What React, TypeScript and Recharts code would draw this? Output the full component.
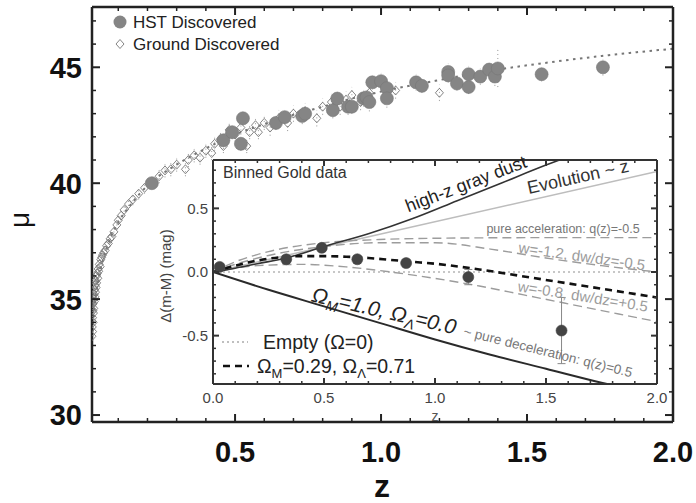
import React from "react";
import {
  ComposedChart,
  Scatter,
  Line,
  XAxis,
  YAxis,
  ErrorBar,
  CartesianGrid,
} from "recharts";

const FONT = '"Liberation Sans", Arial, Helvetica, sans-serif';

// ---- main Hubble diagram: [z, mu, error] ----
const hstDiscovered: [number, number, number][] = [
  [0.215, 40.0, 0.25], [0.46, 41.85, 0.3], [0.49, 42.2, 0.3], [0.52, 41.7, 0.3],
  [0.527, 42.8, 0.3], [0.64, 42.6, 0.3], [0.67, 42.85, 0.3], [0.73, 42.9, 0.35],
  [0.74, 43.0, 0.3], [0.835, 43.15, 0.35], [0.85, 43.65, 0.3], [0.887, 43.3, 0.35],
  [0.9, 43.3, 0.3], [0.94, 43.66, 0.35], [0.95, 43.7, 0.3], [0.96, 43.5, 0.4],
  [0.97, 44.35, 0.3], [1.0, 44.4, 0.35], [1.02, 44.1, 0.3], [1.02, 43.66, 0.4],
  [1.12, 44.35, 0.35], [1.14, 44.2, 0.3], [1.23, 44.8, 0.35], [1.23, 44.65, 0.3],
  [1.26, 44.3, 0.3], [1.3, 44.7, 0.35], [1.3, 44.15, 0.3], [1.34, 44.6, 0.35],
  [1.37, 44.9, 0.3], [1.39, 44.6, 0.4], [1.4, 44.95, 0.8], [1.55, 44.7, 0.3],
  [1.76, 45.0, 0.35],
];

const groundDiscovered: [number, number, number][] = [
  [0.01, 33.4, 0.3], [0.011, 33.8, 0.3], [0.012, 34.2, 0.3], [0.012, 33.6, 0.3],
  [0.013, 34.5, 0.3], [0.014, 34.0, 0.3], [0.014, 34.8, 0.3], [0.015, 34.4, 0.3],
  [0.016, 35.0, 0.3], [0.016, 34.6, 0.3], [0.017, 35.2, 0.25], [0.018, 34.9, 0.25],
  [0.019, 35.4, 0.25], [0.02, 35.1, 0.25], [0.021, 35.6, 0.25], [0.022, 35.3, 0.25],
  [0.023, 35.8, 0.25], [0.024, 35.5, 0.25], [0.025, 36.0, 0.2], [0.026, 35.7, 0.2],
  [0.028, 36.1, 0.2], [0.03, 35.9, 0.2], [0.031, 36.3, 0.2], [0.033, 36.2, 0.2],
  [0.035, 36.5, 0.2], [0.038, 36.4, 0.2], [0.04, 36.7, 0.2], [0.043, 36.8, 0.2],
  [0.046, 36.9, 0.2], [0.05, 37.0, 0.2], [0.055, 37.1, 0.2], [0.06, 37.3, 0.2],
  [0.066, 37.4, 0.2], [0.072, 37.6, 0.2], [0.078, 37.7, 0.2], [0.085, 37.9, 0.2],
  [0.095, 38.2, 0.2], [0.1, 38.4, 0.2], [0.11, 38.6, 0.2], [0.12, 38.85, 0.25],
  [0.135, 39.1, 0.25], [0.15, 39.3, 0.25], [0.17, 39.55, 0.25], [0.19, 39.8, 0.25],
  [0.24, 40.3, 0.3], [0.26, 40.55, 0.3], [0.28, 40.6, 0.3], [0.3, 40.8, 0.3],
  [0.33, 40.6, 0.3], [0.34, 41.0, 0.3], [0.36, 41.2, 0.3], [0.38, 41.1, 0.3],
  [0.4, 41.4, 0.3], [0.42, 41.3, 0.3], [0.43, 41.7, 0.3], [0.45, 41.9, 0.3],
  [0.46, 41.6, 0.3], [0.47, 42.0, 0.3], [0.48, 42.3, 0.3], [0.5, 42.1, 0.3],
  [0.52, 42.4, 0.3], [0.54, 41.6, 0.3], [0.55, 42.2, 0.3], [0.57, 42.5, 0.3],
  [0.58, 42.2, 0.3], [0.6, 42.6, 0.3], [0.62, 42.4, 0.35], [0.65, 42.8, 0.35],
  [0.68, 42.6, 0.35], [0.7, 43.0, 0.35], [0.74, 43.1, 0.35], [0.78, 42.8, 0.35],
  [0.8, 43.3, 0.35], [0.83, 43.5, 0.35], [0.86, 43.3, 0.35], [0.88, 43.6, 0.35],
  [0.9, 43.8, 0.35], [0.93, 43.5, 0.35], [0.96, 43.9, 0.35], [1.05, 44.0, 0.35],
  [1.2, 43.9, 0.35],
];

const modelCurve: [number, number][] = [
  [0.01, 33.3], [0.02, 34.8], [0.03, 35.7], [0.05, 36.8], [0.075, 37.7],
  [0.1, 38.3], [0.15, 39.2], [0.2, 39.9], [0.3, 40.8], [0.4, 41.5], [0.5, 42.1],
  [0.6, 42.55], [0.7, 42.95], [0.8, 43.3], [0.9, 43.65], [1.0, 43.95],
  [1.2, 44.45], [1.4, 44.9], [1.6, 45.25], [1.8, 45.55], [2.0, 45.8],
];

const mainXTicks = [0.1, 0.2, 0.3, 0.4, 0.5, 0.6, 0.7, 0.8, 0.9, 1.0, 1.1, 1.2, 1.3, 1.4, 1.5, 1.6, 1.7, 1.8, 1.9, 2.0];
const mainXLabels = [0.5, 1.0, 1.5, 2.0];
const mainYTicks = [30, 31, 32, 33, 34, 35, 36, 37, 38, 39, 40, 41, 42, 43, 44, 45, 46, 47];
const mainYLabels = [30, 35, 40, 45];

// ---- inset: residuals relative to empty universe, [z, delta] ----
const binnedGold: [number, number, number][] = [
  [0.03, 0.04, 0.02], [0.33, 0.1, 0.03], [0.49, 0.19, 0.03], [0.65, 0.1, 0.03],
  [0.87, 0.07, 0.03], [1.15, -0.04, 0.06], [1.57, -0.46, 0.26],
];
const emptyModel: [number, number][] = [[0, 0], [2, 0]];
const lcdmModel: [number, number][] = [
  [0, 0], [0.1, 0.05], [0.2, 0.09], [0.3, 0.115], [0.4, 0.125], [0.5, 0.125],
  [0.6, 0.12], [0.7, 0.11], [0.8, 0.095], [0.9, 0.08], [1.0, 0.065], [1.2, 0.02],
  [1.4, -0.035], [1.6, -0.09], [1.8, -0.145], [2.0, -0.2],
];
const matterOnly: [number, number][] = [
  [0, 0], [0.25, -0.14], [0.5, -0.27], [0.75, -0.4], [1.0, -0.53],
  [1.25, -0.65], [1.5, -0.76], [1.75, -0.87], [2.0, -0.97],
];
const grayDust: [number, number][] = [
  [0, 0], [0.1, 0.03], [0.2, 0.065], [0.33, 0.11], [0.5, 0.2], [0.7, 0.3],
  [0.9, 0.42], [1.1, 0.56], [1.3, 0.7], [1.5, 0.84], [1.7, 0.97],
];
const evolution: [number, number][] = [[0, 0], [2.0, 0.79]];
const pureAccel: [number, number][] = [
  [0, 0], [0.1, 0.08], [0.25, 0.16], [0.5, 0.23], [0.75, 0.255], [1.0, 0.265],
  [1.5, 0.27], [2.0, 0.27],
];
const wMinus12: [number, number][] = [
  [0, 0], [0.1, 0.06], [0.25, 0.13], [0.5, 0.2], [0.75, 0.23], [1.0, 0.23],
  [1.25, 0.18], [1.5, 0.11], [1.75, 0.05], [2.0, 0.0],
];
const wMinus08: [number, number][] = [
  [0, 0], [0.2, 0.05], [0.4, 0.06], [0.6, 0.04], [0.8, 0.0], [1.0, -0.05],
  [1.2, -0.11], [1.4, -0.18], [1.6, -0.25], [1.8, -0.32], [2.0, -0.39],
];

const insetXTicks = [0, 0.1, 0.2, 0.3, 0.4, 0.5, 0.6, 0.7, 0.8, 0.9, 1.0, 1.1, 1.2, 1.3, 1.4, 1.5, 1.6, 1.7, 1.8, 1.9, 2.0];
const insetXLabels = [0, 0.5, 1.0, 1.5, 2.0];
const insetYTicks = [-0.8, -0.7, -0.6, -0.5, -0.4, -0.3, -0.2, -0.1, 0, 0.1, 0.2, 0.3, 0.4, 0.5, 0.6, 0.7, 0.8];
const insetYLabels = [-0.5, 0, 0.5];

const pts3 = (a: [number, number, number][], k: string) => a.map(([z, v, err]) => ({ z, [k]: v, err }));
const pts2 = (a: [number, number][], k: string) => a.map(([z, v]) => ({ z, [k]: v }));

type Side = "bottom" | "top" | "left" | "right";
type LabelOpt = { fmt: (v: number) => string; size: number; weight: number | string; fill: string; gap: number };

// inward ticks, longer at labelled values
function tickRenderer(side: Side, majors: number[], majorLen: number, minorLen: number, stroke: string, label?: LabelOpt) {
  return (props: any) => {
    const { x, y, payload } = props;
    const v = payload.value as number;
    const isMajor = majors.some((m) => Math.abs(m - v) < 1e-6);
    const len = isMajor ? majorLen : minorLen;
    let x2 = x;
    let y2 = y;
    if (side === "bottom") y2 = y - len;
    if (side === "top") y2 = y + len;
    if (side === "left") x2 = x + len;
    if (side === "right") x2 = x - len;
    let text = null;
    if (label && isMajor) {
      const common = { fontFamily: FONT, fontSize: label.size, fontWeight: label.weight, fill: label.fill };
      if (side === "bottom")
        text = (
          <text x={x} y={y + label.gap} textAnchor="middle" {...common}>
            {label.fmt(v)}
          </text>
        );
      if (side === "left")
        text = (
          <text x={x - label.gap} y={y} dy="0.36em" textAnchor="end" {...common}>
            {label.fmt(v)}
          </text>
        );
    }
    return (
      <g>
        <line x1={x} y1={y} x2={x2} y2={y2} stroke={stroke} strokeWidth={isMajor ? 2 : 1.5} />
        {text}
      </g>
    );
  };
}

const circleShape = (fill: string, r: number, stroke: string) => (p: any) =>
  <circle cx={p.cx} cy={p.cy} r={r} fill={fill} stroke={stroke} strokeWidth={0.6} />;

const diamondShape = (p: any) => (
  <path
    d={`M${p.cx},${p.cy - 4.5}L${p.cx + 4},${p.cy}L${p.cx},${p.cy + 4.5}L${p.cx - 4},${p.cy}Z`}
    fill="none"
    stroke="#777"
    strokeWidth={0.9}
  />
);

function MainChart() {
  const axisStroke = "#222";
  const lbl: LabelOpt = { fmt: (v) => v.toFixed(1), size: 29, weight: "bold", fill: "#111", gap: 40 };
  const ylbl: LabelOpt = { ...lbl, fmt: (v) => String(v), gap: 10 };
  return (
    <ComposedChart width={696} height={503} margin={{ top: 6, right: 22, bottom: 0, left: 0 }}>
      <XAxis
        type="number" dataKey="z" domain={[0.01, 2]} allowDataOverflow ticks={mainXTicks} interval={0}
        tickSize={0} tickMargin={0} tickLine={false} height={81}
        axisLine={{ stroke: axisStroke, strokeWidth: 2.5 }}
        tick={tickRenderer("bottom", mainXLabels, 8, 4, axisStroke, lbl)}
      />
      <XAxis
        xAxisId="t" orientation="top" type="number" dataKey="z" domain={[0.01, 2]} allowDataOverflow ticks={mainXTicks}
        interval={0} tickSize={0} tickMargin={0} tickLine={false} height={1}
        axisLine={{ stroke: axisStroke, strokeWidth: 2.5 }}
        tick={tickRenderer("top", mainXLabels, 8, 4, axisStroke)}
      />
      <YAxis
        type="number" dataKey="mu" domain={[29.7, 47.6]} allowDataOverflow ticks={mainYTicks} interval={0}
        tickSize={0} tickMargin={0} tickLine={false} width={92}
        axisLine={{ stroke: axisStroke, strokeWidth: 2.5 }}
        tick={tickRenderer("left", mainYLabels, 8, 4, axisStroke, ylbl)}
      />
      <YAxis
        yAxisId="r" orientation="right" type="number" dataKey="mu" domain={[29.7, 47.6]} allowDataOverflow ticks={mainYTicks}
        interval={0} tickSize={0} tickMargin={0} tickLine={false} width={1}
        axisLine={{ stroke: axisStroke, strokeWidth: 2.5 }}
        tick={tickRenderer("right", mainYLabels, 8, 4, axisStroke)}
      />
      <Scatter data={pts3(groundDiscovered, "mu")} dataKey="mu" shape={diamondShape} isAnimationActive={false}>
        <ErrorBar dataKey="err" direction="y" width={0} stroke="#9a9a9a" strokeWidth={1} strokeDasharray="1 3" />
      </Scatter>
      <Scatter data={pts3(hstDiscovered, "mu")} dataKey="mu" shape={circleShape("#858585", 6.5, "#777")} isAnimationActive={false}>
        <ErrorBar dataKey="err" direction="y" width={0} stroke="#9a9a9a" strokeWidth={1} strokeDasharray="1 3" />
      </Scatter>
      {/* model curve drawn on the mirrored top/right axes (same domains) so they render */}
      <Line
        xAxisId="t" yAxisId="r"
        data={pts2(modelCurve, "mu")} dataKey="mu" type="monotone" dot={false} stroke="#777"
        strokeWidth={2} strokeDasharray="2.5 4.5" isAnimationActive={false}
      />
    </ComposedChart>
  );
}

function InsetChart() {
  const s = "#333";
  const lbl: LabelOpt = { fmt: (v) => v.toFixed(1), size: 15, weight: "normal", fill: "#444", gap: 19 };
  const ylbl: LabelOpt = { ...lbl, gap: 5 };
  const dashGray = { stroke: "#9c9c9c", strokeWidth: 1.4, strokeDasharray: "9 5" };
  return (
    <ComposedChart width={696} height={503} margin={{ top: 159, right: 38, bottom: 89, left: 163 }}>
      <CartesianGrid horizontal={false} vertical={false} fill="#fff" fillOpacity={1} />
      <XAxis
        type="number" dataKey="z" domain={[0, 2]} allowDataOverflow ticks={insetXTicks} interval={0}
        tickSize={0} tickMargin={0} tickLine={false} height={30}
        axisLine={{ stroke: s, strokeWidth: 2 }}
        tick={tickRenderer("bottom", insetXLabels, 6, 3, s, lbl)}
      />
      <XAxis
        xAxisId="t" orientation="top" type="number" dataKey="z" domain={[0, 2]} allowDataOverflow ticks={insetXTicks}
        interval={0} tickSize={0} tickMargin={0} tickLine={false} height={1}
        axisLine={{ stroke: s, strokeWidth: 2 }}
        tick={tickRenderer("top", insetXLabels, 6, 3, s)}
      />
      <YAxis
        type="number" dataKey="v" domain={[-0.88, 0.88]} allowDataOverflow ticks={insetYTicks} interval={0}
        tickSize={0} tickMargin={0} tickLine={false} width={50}
        axisLine={{ stroke: s, strokeWidth: 2 }}
        tick={tickRenderer("left", insetYLabels, 6, 3, s, ylbl)}
      />
      <YAxis
        yAxisId="r" orientation="right" type="number" dataKey="v" domain={[-0.88, 0.88]} allowDataOverflow ticks={insetYTicks}
        interval={0} tickSize={0} tickMargin={0} tickLine={false} width={1}
        axisLine={{ stroke: s, strokeWidth: 2 }}
        tick={tickRenderer("right", insetYLabels, 6, 3, s)}
      />
      <Line xAxisId="t" yAxisId="r" data={pts2(emptyModel, "v")} dataKey="v" type="linear" dot={false} stroke="#b5b5b5" strokeWidth={1.5} strokeDasharray="2 3" isAnimationActive={false} />
      <Line data={pts2(evolution, "v")} dataKey="v" type="linear" dot={false} stroke="#bdbdbd" strokeWidth={1.6} isAnimationActive={false} />
      <Line data={pts2(pureAccel, "v")} dataKey="v" type="monotone" dot={false} {...dashGray} isAnimationActive={false} />
      <Line data={pts2(wMinus12, "v")} dataKey="v" type="monotone" dot={false} {...dashGray} isAnimationActive={false} />
      <Line data={pts2(wMinus08, "v")} dataKey="v" type="monotone" dot={false} {...dashGray} isAnimationActive={false} />
      <Line data={pts2(grayDust, "v")} dataKey="v" type="monotone" dot={false} stroke="#333" strokeWidth={1.6} isAnimationActive={false} />
      <Line data={pts2(matterOnly, "v")} dataKey="v" type="monotone" dot={false} stroke="#2a2a2a" strokeWidth={2} isAnimationActive={false} />
      <Line data={pts2(lcdmModel, "v")} dataKey="v" type="monotone" dot={false} stroke="#111" strokeWidth={2.6} strokeDasharray="7 5" isAnimationActive={false} />
      <Scatter data={pts3(binnedGold, "v")} dataKey="v" shape={circleShape("#444", 5.5, "#444")} isAnimationActive={false}>
        <ErrorBar dataKey="err" direction="y" width={4} stroke="#888" strokeWidth={1} />
      </Scatter>
    </ComposedChart>
  );
}

function Annotations() {
  const t = { fontFamily: FONT };
  return (
    <svg width={696} height={503} style={{ position: "absolute", left: 0, top: 0, pointerEvents: "none" }}>
      {/* main axis titles */}
      <text x={19} y={220} transform="rotate(-90 19 220)" textAnchor="middle" dominantBaseline="central" fontSize={28} fill="#111" {...t}>
        μ
      </text>
      <text x={382} y={497} textAnchor="middle" fontSize={32} fontWeight="bold" fill="#111" {...t}>
        z
      </text>
      {/* main legend */}
      <circle cx={120} cy={22} r={6.5} fill="#858585" />
      <text x={133} y={28} fontSize={17} fill="#222" {...t}>HST Discovered</text>
      <path d="M120,39.5L124,44L120,48.5L116,44Z" fill="none" stroke="#777" strokeWidth={0.9} />
      <text x={133} y={50} fontSize={17} fill="#222" {...t}>Ground Discovered</text>

      {/* inset labels */}
      <text x={165} y={276} transform="rotate(-90 165 276)" textAnchor="middle" dominantBaseline="central" fontSize={15} fill="#444" {...t}>
        Δ(m-M) (mag)
      </text>
      <text x={435} y={421} textAnchor="middle" fontSize={14} fill="#555" {...t}>z</text>
      <text x={223} y={178} fontSize={16} fill="#333" {...t}>Binned Gold data</text>

      <text x={466} y={184} transform="rotate(-21 466 184)" textAnchor="middle" dominantBaseline="central" fontSize={18} fill="#222" {...t}>
        high-z gray dust
      </text>
      <text x={578} y={177} transform="rotate(-12.5 578 177)" textAnchor="middle" dominantBaseline="central" fontSize={18} fill="#333" {...t}>
        Evolution ~ z
      </text>
      <text x={563} y={229} textAnchor="middle" dominantBaseline="central" fontSize={12.5} fill="#777" {...t}>
        pure acceleration: q(z)=-0.5
      </text>
      <text x={582} y={256} transform="rotate(8 582 256)" textAnchor="middle" dominantBaseline="central" fontSize={15} fill="#9c9c9c" {...t}>
        w=-1.2, dw/dz=-0.5
      </text>
      <text x={583} y={296} transform="rotate(9 583 296)" textAnchor="middle" dominantBaseline="central" fontSize={15} fill="#9c9c9c" {...t}>
        w=-0.8, dw/dz=+0.5
      </text>
      <text x={548} y={352} transform="rotate(14 548 352)" textAnchor="middle" dominantBaseline="central" fontSize={13.5} fill="#777" {...t}>
        ~ pure deceleration: q(z)=0.5
      </text>
      <text x={384} y={318} transform="rotate(13 384 311)" textAnchor="middle" fontSize={21} fontStyle="italic" fill="#222" {...t}>
        Ω<tspan fontSize={14} dy={5}>M</tspan>
        <tspan dy={-5}>=1.0, Ω</tspan>
        <tspan fontSize={14} dy={5}>Λ</tspan>
        <tspan dy={-5}>=0.0</tspan>
      </text>

      {/* inset legend */}
      <line x1={222} y1={342} x2={248} y2={342} stroke="#aaa" strokeWidth={1.5} strokeDasharray="2 3" />
      <text x={263} y={349} fontSize={19.5} fill="#222" {...t}>Empty (Ω=0)</text>
      <line x1={223} y1={366} x2={249} y2={366} stroke="#111" strokeWidth={2.6} strokeDasharray="7 5" />
      <text x={257} y={373} fontSize={19.5} fill="#222" {...t}>
        Ω<tspan fontSize={13} dy={5}>M</tspan>
        <tspan dy={-5}>=0.29, Ω</tspan>
        <tspan fontSize={13} dy={5}>Λ</tspan>
        <tspan dy={-5}>=0.71</tspan>
      </text>
    </svg>
  );
}

export default function App() {
  return (
    <div style={{ position: "absolute", left: 0, top: 0, width: 696, height: 503, background: "#fff" }}>
      <div style={{ position: "absolute", left: 0, top: 0 }}>
        <MainChart />
      </div>
      <div style={{ position: "absolute", left: 0, top: 0 }}>
        <InsetChart />
      </div>
      <Annotations />
    </div>
  );
}
